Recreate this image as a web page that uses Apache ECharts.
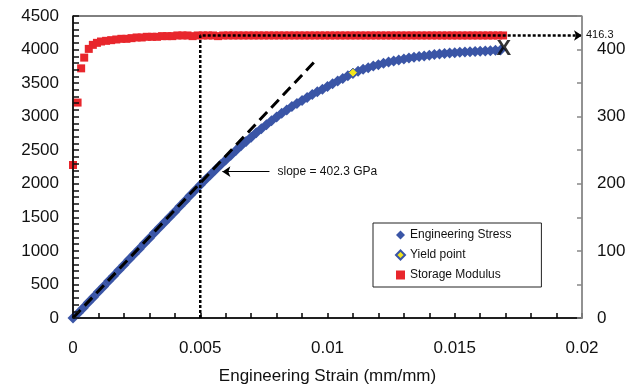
<!DOCTYPE html>
<html>
<head>
<meta charset="utf-8">
<script src="https://cdn.jsdelivr.net/npm/echarts@6/dist/echarts.min.js"></script>
<style>
  html, body { margin: 0; padding: 0; background: #fff; }
  #chart { width: 641px; height: 387px; }
</style>
</head>
<body>
<div id="chart"></div>
<script>
// 工程应力 (MPa) vs 应变
const stressStrain = [
  0, 0.0002, 0.0004, 0.0006, 0.0008, 0.0010, 0.0012, 0.0014, 0.0016, 0.0018,
  0.0020, 0.0022, 0.0024, 0.0026, 0.0028, 0.0030, 0.0032, 0.0034, 0.0036, 0.0038,
  0.0040, 0.0042, 0.0044, 0.0046, 0.0048, 0.0050, 0.0052, 0.0054, 0.0056, 0.0058,
  0.0060, 0.0062, 0.0064, 0.0066, 0.0068, 0.0070, 0.0072, 0.0074, 0.0076, 0.0078,
  0.0080, 0.0082, 0.0084, 0.0086, 0.0088, 0.0090, 0.0092, 0.0094, 0.0096, 0.0098,
  0.0100, 0.0102, 0.0104, 0.0106, 0.0108, 0.0110, 0.0112, 0.0114, 0.0116, 0.0118,
  0.0120, 0.0122, 0.0124, 0.0126, 0.0128, 0.0130, 0.0132, 0.0134, 0.0136, 0.0138,
  0.0140, 0.0142, 0.0144, 0.0146, 0.0148, 0.0150, 0.0152, 0.0154, 0.0156, 0.0158,
  0.0160, 0.0162, 0.0164, 0.0166, 0.0168
];
const stressValues = [
  0, 70, 150, 230, 310, 390, 470, 550, 630, 710,
  790, 870, 950, 1030, 1110, 1190, 1270, 1350, 1425, 1505,
  1585, 1665, 1745, 1825, 1905, 1980, 2060, 2135, 2210, 2285,
  2355, 2425, 2495, 2565, 2630, 2695, 2760, 2820, 2880, 2940,
  2995, 3050, 3100, 3150, 3195, 3240, 3285, 3330, 3370, 3410,
  3450, 3490, 3530, 3570, 3610, 3645, 3675, 3705, 3730, 3755,
  3775, 3795, 3815, 3830, 3845, 3860, 3875, 3885, 3895, 3905,
  3915, 3925, 3932, 3940, 3947, 3953, 3958, 3963, 3968, 3972,
  3976, 3980, 3984, 3988, 3992
];

// 屈服点
const yieldPoint = [0.0110, 3655];

// 储能模量 (右轴)
const modulusStrain = [
  0, 0.00018, 0.00032, 0.00044, 0.00062, 0.00078, 0.00094,
  0.0011, 0.0013, 0.0015, 0.0017, 0.0019, 0.0021, 0.0023, 0.0025, 0.0027, 0.0029,
  0.0031, 0.0033, 0.0035, 0.0037, 0.0039, 0.0041, 0.0043, 0.0045, 0.0047, 0.0049,
  0.0051, 0.0053, 0.0055, 0.0057, 0.0059, 0.0061, 0.0063, 0.0065, 0.0067, 0.0069,
  0.0071, 0.0073, 0.0075, 0.0077, 0.0079, 0.0081, 0.0083, 0.0085, 0.0087, 0.0089,
  0.0091, 0.0093, 0.0095, 0.0097, 0.0099, 0.0101, 0.0103, 0.0105, 0.0107, 0.0109,
  0.0111, 0.0113, 0.0115, 0.0117, 0.0119, 0.0121, 0.0123, 0.0125, 0.0127, 0.0129,
  0.0131, 0.0133, 0.0135, 0.0137, 0.0139, 0.0141, 0.0143, 0.0145, 0.0147, 0.0149,
  0.0151, 0.0153, 0.0155, 0.0157, 0.0159, 0.0161, 0.0163, 0.0165, 0.0167, 0.0169
];
const modulusValues = [
  228, 321, 372, 388, 401, 407, 410,
  412, 413, 414, 415, 416, 416, 417, 418, 418, 419,
  419, 419, 420, 420, 420, 421, 421, 421, 420, 421,
  421, 421, 421, 420, 421, 421, 421, 421, 421, 421,
  421, 421, 421, 421, 421, 421, 421, 421, 421, 421,
  421, 421, 421, 421, 421, 421, 421, 421, 421, 421,
  421, 421, 421, 421, 421, 421, 421, 421, 421, 421,
  421, 421, 421, 421, 421, 421, 421, 421, 421, 421,
  421, 421, 421, 421, 421, 421, 421, 421, 421, 421
];

// 弹性段拟合线
const slopeLine = [[0, 0], [0.0096, 3862]];
const slopeText = "slope = 402.3 GPa";
const slopeArrow = [[0.00772, 2180], [0.00587, 2180]];

// 虚线标注 (0.005 处, 416.3)
const markStrain = 0.005;
const markLevel = 4210;
const markText = "416.3";
const endPoint = [0.01693, 4015];

const xTicks = [0, 0.005, 0.01, 0.015, 0.02];

const FONT = "Liberation Sans, Arial, sans-serif";
const BLUE = "#3a55a6";
const RED = "#e8262c";

const chart = echarts.init(document.getElementById("chart"));

const option = {
  animation: false,
  textStyle: { fontFamily: FONT },
  grid: {
    left: 73,
    right: 59,
    top: 16,
    bottom: 69,
    show: true,
    borderColor: "#000",
    borderWidth: 1,
    outerBoundsMode: "none"
  },
  legend: {
    orient: "vertical",
    left: 373,
    top: 223,
    padding: [6, 30, 6, 22],
    itemGap: 8,
    itemWidth: 9,
    itemHeight: 9,
    borderColor: "#222",
    borderWidth: 1,
    textStyle: { fontSize: 12, color: "#111", fontFamily: FONT },
    data: [
      { name: "Engineering Stress", icon: "diamond" },
      { name: "Yield point", icon: "diamond" },
      { name: "Storage Modulus", icon: "rect" }
    ]
  },
  xAxis: {
    type: "value",
    min: 0,
    max: 0.02,
    interval: 0.001,
    name: "Engineering Strain (mm/mm)",
    nameLocation: "middle",
    nameGap: 50,
    nameTextStyle: { fontSize: 17, color: "#111", fontFamily: FONT },
    axisLine: { lineStyle: { color: "#000", width: 1.5 } },
    axisTick: { show: true, inside: true, length: 5, lineStyle: { color: "#000", width: 1.5 } },
    axisLabel: {
      fontSize: 17,
      color: "#111",
      margin: 22,
      formatter: function (v) {
        const hit = xTicks.find(t => Math.abs(t - v) < 1e-9);
        return hit === undefined ? "" : String(hit);
      }
    },
    splitLine: { show: false }
  },
  yAxis: [
    {
      type: "value",
      min: 0,
      max: 4500,
      interval: 100,
      z: 10,
      axisLine: { show: true, lineStyle: { color: "#000", width: 1.5 } },
      axisTick: { show: true, inside: true, length: 6, lineStyle: { color: "#111", width: 1.5 } },
      axisLabel: {
        fontSize: 17,
        color: "#111",
        margin: 14,
        formatter: function (v) { return v % 500 === 0 ? String(v) : ""; }
      },
      splitLine: { show: false }
    },
    {
      type: "value",
      min: 0,
      max: 450,
      interval: 50,
      position: "right",
      z: 10,
      axisLine: { show: true, lineStyle: { color: "#999", width: 1.5 } },
      axisTick: { show: true, inside: true, length: 5, lineStyle: { color: "#888", width: 1.5 } },
      axisLabel: {
        fontSize: 17,
        color: "#111",
        margin: 15,
        formatter: function (v) { return v % 100 === 0 ? String(v) : ""; }
      },
      splitLine: { show: false }
    }
  ],
  series: [
    {
      name: "Engineering Stress",
      type: "scatter",
      symbol: "diamond",
      symbolSize: 11,
      itemStyle: { color: BLUE, opacity: 1 },
      data: stressStrain.map((x, i) => [x, stressValues[i]])
    },
    {
      name: "Yield point",
      type: "scatter",
      symbol: "diamond",
      symbolSize: 9,
      z: 4,
      itemStyle: { color: "#f2e51d", borderColor: BLUE, borderWidth: 1, opacity: 1 },
      data: [yieldPoint]
    },
    {
      type: "line",
      data: slopeLine,
      symbol: "none",
      z: 5,
      lineStyle: { color: "#000", width: 3, type: [11, 6] },
      markLine: {
        silent: true,
        symbol: ["none", "arrow"],
        symbolSize: 8,
        lineStyle: { color: "#000", width: 1, type: "solid" },
        label: {
          show: true,
          position: "start",
          distance: 8,
          formatter: slopeText,
          color: "#111",
          fontSize: 12,
          fontFamily: FONT
        },
        data: [[{ coord: slopeArrow[0] }, { coord: slopeArrow[1] }]]
      }
    },
    {
      name: "Storage Modulus",
      type: "scatter",
      yAxisIndex: 1,
      symbol: "rect",
      symbolSize: 8,
      itemStyle: { color: RED, opacity: 1 },
      data: modulusStrain.map((x, i) => [x, modulusValues[i]])
    },
    {
      type: "line",
      data: [[markStrain, 0], [markStrain, markLevel], [0.02, markLevel]],
      symbol: "none",
      z: 6,
      lineStyle: { color: "#000", width: 2.5, type: [3, 2] },
      markLine: {
        silent: true,
        symbol: ["none", "arrow"],
        symbolSize: 8,
        lineStyle: { color: "#000", width: 0.1, type: "solid", opacity: 1 },
        label: {
          show: true,
          position: "end",
          distance: 4,
          formatter: markText,
          color: "#111",
          fontSize: 11,
          fontFamily: FONT
        },
        data: [[{ coord: [0.019, markLevel] }, { coord: [0.02, markLevel] }]]
      }
    },
    {
      type: "scatter",
      data: [endPoint],
      symbolSize: 0,
      z: 7,
      label: {
        show: true,
        position: "inside",
        formatter: "X",
        fontSize: 22,
        fontWeight: "bold",
        color: "#000",
        fontFamily: FONT
      }
    }
  ]
};

chart.setOption(option);
</script>
</body>
</html>
